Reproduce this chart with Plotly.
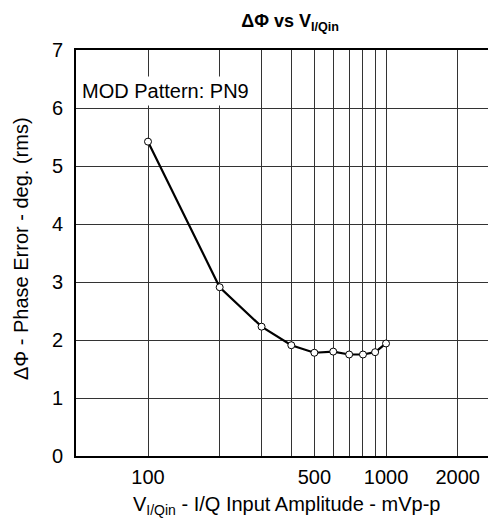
import plotly.graph_objects as go

# data
amplitude_mvpp = [100, 200, 300, 400, 500, 600, 700, 800, 900, 1000]
phase_error_deg = [5.42, 2.91, 2.23, 1.91, 1.78, 1.80, 1.75, 1.75, 1.79, 1.94]

x_tickvals = [100, 200, 300, 400, 500, 600, 700, 800, 900, 1000, 2000]
x_ticktext = ['100', '', '', '', '500', '', '', '', '', '1000', '2000']
y_tickvals = [0, 1, 2, 3, 4, 5, 6, 7]

font_family = "Liberation Sans, Arial, sans-serif"

fig = go.Figure()

fig.add_trace(go.Scatter(
    x=amplitude_mvpp,
    y=phase_error_deg,
    mode='lines+markers',
    line=dict(color='black', width=2.2),
    marker=dict(symbol='circle', size=7, color='white',
                line=dict(color='black', width=1)),
    showlegend=False,
))

fig.add_annotation(
    text="MOD Pattern: PN9",
    xref='paper', yref='y',
    x=0.005, y=6.29,
    xanchor='left', yanchor='middle',
    showarrow=False,
    font=dict(size=20, color='black'),
    bgcolor='white',
    borderpad=3,
)

# axis titles as annotations so they can sit where the original puts them
fig.add_annotation(
    text="V<sub>I/Qin</sub> - I/Q Input Amplitude - mVp-p",
    xref='paper', yref='paper',
    x=0.5, y=-0.121,
    xanchor='center', yanchor='middle',
    showarrow=False,
    font=dict(size=20, color='black'),
)
fig.add_annotation(
    text="ΔΦ - Phase Error - deg. (rms)",
    xref='paper', yref='paper',
    x=-0.131, y=0.512,
    xanchor='center', yanchor='middle',
    textangle=-90,
    showarrow=False,
    font=dict(size=20, color='black'),
)

# the page adds an 8px body margin, so the figure is 8px smaller than the window
fig.update_layout(
    width=488, height=512,
    margin=dict(l=68, r=0, t=42, b=64),
    paper_bgcolor='white',
    plot_bgcolor='white',
    font=dict(family=font_family, color='black'),
    title=dict(
        text="<b>ΔΦ vs V<sub>I/Qin</sub></b>",
        x=0.578, xanchor='center',
        y=0.975, yanchor='middle',
        font=dict(size=18, color='black'),
    ),
    xaxis=dict(
        type='log',
        range=[1.6975, 3.462],
        tickvals=x_tickvals,
        ticktext=x_ticktext,
        showgrid=True, gridcolor='#333', gridwidth=1,
        showline=True, linecolor='black', linewidth=2, mirror=True,
        ticks='', ticklabelstandoff=2,
        tickfont=dict(size=20),
        zeroline=False,
    ),
    yaxis=dict(
        range=[0, 7],
        tickvals=y_tickvals,
        showgrid=True, gridcolor='#333', gridwidth=1,
        showline=True, linecolor='black', linewidth=2, mirror=False,
        ticks='', ticklabelstandoff=7,
        tickfont=dict(size=20),
        zeroline=False,
    ),
)

fig.write_html("out.html")
